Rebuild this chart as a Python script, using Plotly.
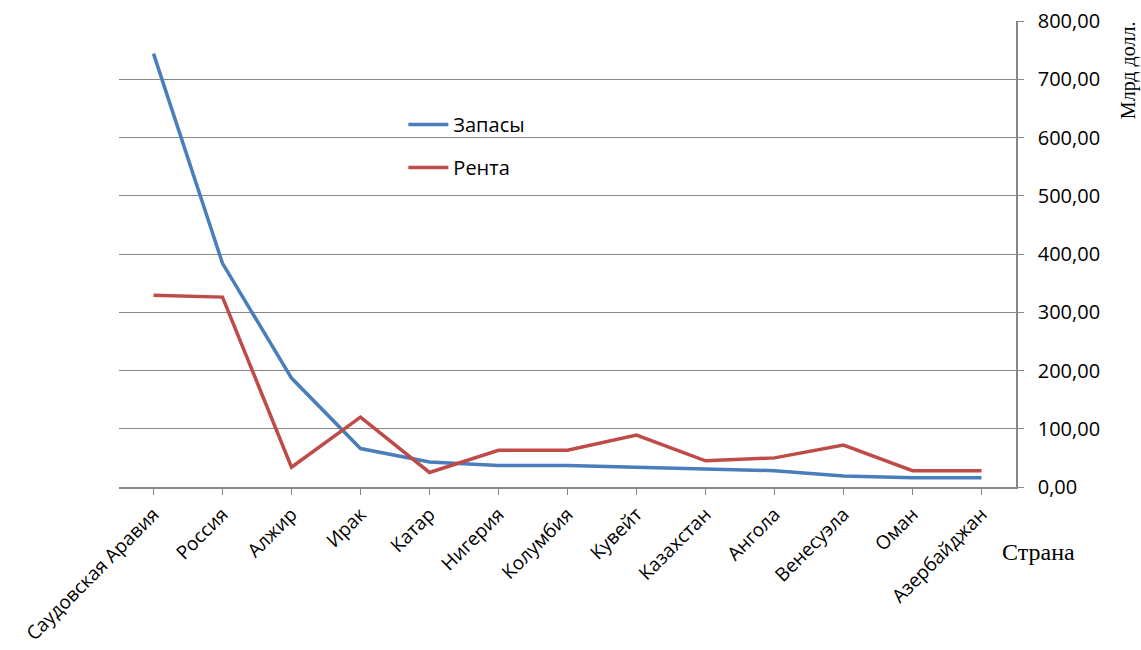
import plotly.graph_objects as go

countries = ["Саудовская Аравия", "Россия", "Алжир", "Ирак", "Катар", "Нигерия",
             "Колумбия", "Кувейт", "Казахстан", "Ангола", "Венесуэла", "Оман", "Азербайджан"]
zapasy = [744, 384, 187, 66, 43, 37, 37, 34, 30, 28, 19, 16, 16]
renta = [329, 326, 34, 120, 25, 63, 63, 89, 45, 50, 72, 28, 28]
y_ticks = [0, 100, 200, 300, 400, 500, 600, 700, 800]

x_tick_font = dict(family="Open Sans, Noto Sans, sans-serif", size=19, color="#000000")
y_tick_font = dict(family="Open Sans, Noto Sans, sans-serif", size=20, color="#000000")
serif_font = dict(family="Liberation Serif, Times New Roman, serif", size=20, color="#000000")
serif_font_big = dict(family="Liberation Serif, Times New Roman, serif", size=24, color="#000000")

fig = go.Figure()
fig.add_trace(go.Scatter(x=countries, y=zapasy, mode="lines", name="Запасы",
                         line=dict(color="#4A7EBB", width=3.5), legendgroup="a"))
fig.add_trace(go.Scatter(x=countries, y=renta, mode="lines", name="Рента",
                         line=dict(color="#BE4B48", width=3.5), legendgroup="b"))

fig.update_layout(
    width=1141, height=650,
    margin=dict(l=119, r=125, t=21, b=163, autoexpand=False),
    paper_bgcolor="white", plot_bgcolor="white",
    separators=", ",
    showlegend=True,
    legend=dict(x=0.317, y=0.82, xanchor="left", yanchor="top",
                font=dict(family="Open Sans, Noto Sans, sans-serif", size=20, color="#000"),
                bgcolor="rgba(0,0,0,0)", tracegroupgap=14, itemwidth=40),
    xaxis=dict(type="category", range=[-0.5, 12.5], showgrid=False, automargin=False,
               showline=True, linecolor="#868686", linewidth=1.5,
               ticks="outside", ticklen=6, tickcolor="#868686",
               tickangle=-45, tickfont=x_tick_font, ticklabelstandoff=1),
    yaxis=dict(side="right", range=[0, 800], tickvals=y_ticks, tickformat=".2f",
               automargin=False,
               showgrid=True, gridcolor="#868686", gridwidth=1,
               showline=True, linecolor="#868686", linewidth=1.5,
               ticks="outside", ticklen=6, tickcolor="#868686",
               tickfont=y_tick_font, zeroline=False, ticklabelstandoff=10),
    annotations=[
        dict(text="Млрд долл.", xref="paper", yref="paper", x=1.0 + 112 / 897, y=1.004,
             xanchor="center", yanchor="top", textangle=-90, showarrow=False, font=serif_font),
        dict(text="Страна", xref="paper", yref="paper", x=0.982, y=-0.139,
             xanchor="left", yanchor="middle", showarrow=False, font=serif_font_big),
    ],
)

fig.write_html("out.html")
